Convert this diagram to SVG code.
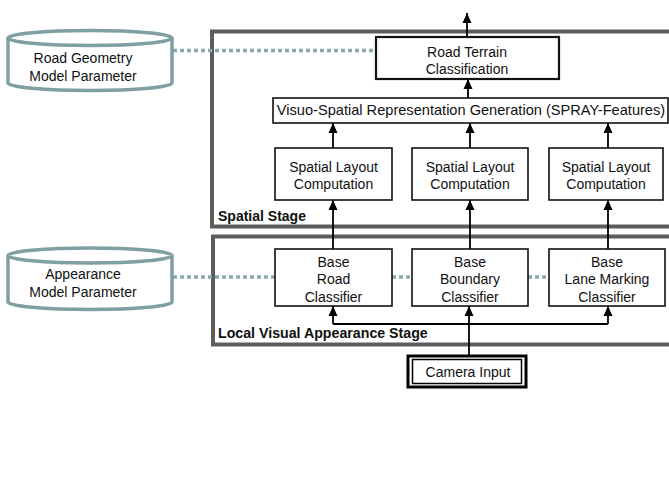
<svg xmlns="http://www.w3.org/2000/svg" width="669" height="498" viewBox="0 0 669 498">
<style>
text{font-family:"Liberation Sans",Arial,sans-serif;font-size:14px;fill:#111;text-anchor:middle}
.stage{fill:none;stroke:#5c5c5c;stroke-width:4}
.lbl{font-weight:bold;text-anchor:start;fill:#111}
.box{fill:#fff;stroke:#111;stroke-width:1.6}
.cyl{fill:#fff;stroke:#7f9fa1;stroke-width:3.5}
.dot{stroke:#8aa9ab;stroke-width:3.5;stroke-dasharray:4 3;fill:none}
.ln{stroke:#000;stroke-width:1.8;fill:none}
.arr{marker-end:url(#ah)}
</style>
<defs>
<marker id="ah" markerUnits="userSpaceOnUse" markerWidth="10" markerHeight="10" viewBox="0 0 10 10" refX="10" refY="5" orient="auto">
<path d="M0,0.5 L10,5 L0,9.5 Z" fill="#000"/>
</marker>
</defs>
<g id="spatial-stage">
<rect class="stage" x="212" y="31.5" width="480" height="195"/>
<text class="lbl" x="218" y="221">Spatial Stage</text>
</g>
<g id="local-stage">
<rect class="stage" x="213" y="236.5" width="480" height="108"/>
<text class="lbl" x="218" y="338" style="font-size:14.2px">Local Visual Appearance Stage</text>
</g>
<g id="connectors">
<line class="dot" x1="173" y1="50.5" x2="376" y2="50.5"/>
<line class="dot" x1="173" y1="277" x2="275" y2="277"/>
<line class="dot" x1="392" y1="277" x2="412" y2="277"/>
<line class="dot" x1="528" y1="277" x2="549" y2="277"/>
<line class="ln arr" x1="467" y1="37" x2="467" y2="13"/>
<line class="ln arr" x1="468" y1="98" x2="468" y2="79"/>
<line class="ln arr" x1="333" y1="148" x2="333" y2="123"/>
<line class="ln arr" x1="470" y1="148" x2="470" y2="123"/>
<line class="ln arr" x1="608" y1="148" x2="608" y2="123"/>
<line class="ln arr" x1="333" y1="249" x2="333" y2="200"/>
<line class="ln arr" x1="470" y1="249" x2="470" y2="200"/>
<line class="ln arr" x1="608" y1="249" x2="608" y2="200"/>
<line class="ln arr" x1="469" y1="355" x2="469" y2="306"/>
<polyline class="ln" points="333,324 608,324"/>
<line class="ln arr" x1="333" y1="324" x2="333" y2="306"/>
<line class="ln arr" x1="608" y1="324" x2="608" y2="306"/>
</g>
<g id="road-geometry">
<path class="cyl" d="M8,38 A82,7.5 0 0 1 172,38 L172,83 A82,7.5 0 0 1 8,83 Z"/>
<path class="cyl" d="M8,38 A82,7.5 0 0 0 172,38"/>
<text x="83" y="63">Road Geometry</text>
<text x="83" y="81">Model Parameter</text>
</g>
<g id="appearance">
<path class="cyl" d="M8,255.5 A82,7.5 0 0 1 172,255.5 L172,302 A82,7.5 0 0 1 8,302 Z"/>
<path class="cyl" d="M8,255.5 A82,7.5 0 0 0 172,255.5"/>
<text x="83" y="279">Appearance</text>
<text x="83" y="297">Model Parameter</text>
</g>
<g id="road-terrain">
<rect class="box" x="376" y="37" width="183" height="42" style="stroke-width:2.2"/>
<text x="467" y="57">Road Terrain</text>
<text x="467" y="74">Classification</text>
</g>
<g id="spray">
<rect class="box" x="273" y="98" width="395" height="25"/>
<text x="471" y="115" style="font-size:14.6px">Visuo-Spatial Representation Generation (SPRAY-Features)</text>
</g>
<g id="spatial1">
<rect class="box" x="275" y="148" width="117" height="52"/>
<text x="333.5" y="172">Spatial Layout</text>
<text x="333.5" y="189">Computation</text>
</g>
<g id="spatial2">
<rect class="box" x="412" y="148" width="116" height="52"/>
<text x="470" y="172">Spatial Layout</text>
<text x="470" y="189">Computation</text>
</g>
<g id="spatial3">
<rect class="box" x="549" y="148" width="114" height="52"/>
<text x="606" y="172">Spatial Layout</text>
<text x="606" y="189">Computation</text>
</g>
<g id="base-road">
<rect class="box" x="275" y="249" width="117" height="57"/>
<text x="333.5" y="267">Base</text>
<text x="333.5" y="284">Road</text>
<text x="333.5" y="302">Classifier</text>
</g>
<g id="base-boundary">
<rect class="box" x="412" y="249" width="116" height="57"/>
<text x="470" y="267">Base</text>
<text x="470" y="284">Boundary</text>
<text x="470" y="302">Classifier</text>
</g>
<g id="base-lane">
<rect class="box" x="549" y="249" width="116" height="57"/>
<text x="607" y="267">Base</text>
<text x="607" y="284">Lane Marking</text>
<text x="607" y="302">Classifier</text>
</g>
<g id="camera">
<rect x="408" y="356" width="118" height="31" fill="#fff" stroke="#000" stroke-width="3"/>
<rect x="412.5" y="359.5" width="109" height="24" fill="none" stroke="#000" stroke-width="1.5"/>
<text x="468" y="377">Camera Input</text>
</g>
</svg>
